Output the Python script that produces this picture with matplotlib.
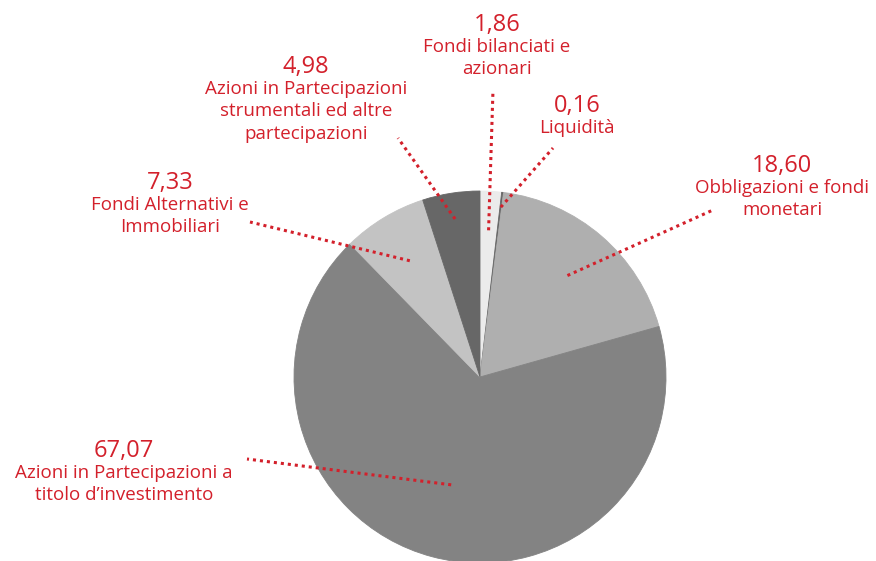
import numpy as np
import matplotlib
matplotlib.use("Agg")
from matplotlib import pyplot as plt

# data, clockwise from 12 o'clock
values = [1.86, 0.16, 18.60, 67.07, 7.33, 4.98]
numbers = ["1,86", "0,16", "18,60", "67,07", "7,33", "4,98"]
labels = ["Fondi bilanciati e\nazionari",
          "Liquidità",
          "Obbligazioni e fondi\nmonetari",
          "Azioni in Partecipazioni a\ntitolo d’investimento",
          "Fondi Alternativi e\nImmobiliari",
          "Azioni in Partecipazioni\nstrumentali ed altre\npartecipazioni"]
colors = ["#ebebeb", "#666666", "#afafaf", "#838383", "#c3c3c3", "#676767"]

# layout (pie radius = 1, centre at 0,0; pixel scale 186 px per unit)
PX = 186.0
CX, CY = 480, 377
def to_data(px, py):
    return (px - CX) / PX, (CY - py) / PX

inner_r = [0.79, 0.92, 0.72, 0.60, 0.73, 0.86]
line_end = [(493, 90), (553, 148), (713, 210), (247, 459), (250, 222), (398, 138)]
num_pos = [(497, 25), (577, 106), (782, 166), (124, 451), (170, 183), (306, 67)]

RED = "#d3202b"
plt.rcParams['font.family'] = ['Open Sans', 'DejaVu Sans']

fig = plt.figure(figsize=(8.76, 5.61), dpi=100)
ax = fig.add_axes([0, 0, 1, 1])

wedges, _ = ax.pie(values, colors=colors, startangle=90, counterclock=False,
                   radius=1, center=(0, 0), frame=True)
for w, c in zip(wedges, colors):
    w.set_edgecolor(c)
    w.set_linewidth(0.6)
ax.set_xlim(-CX / PX, (876 - CX) / PX)
ax.set_ylim((CY - 561) / PX, CY / PX)
ax.set_aspect('equal')
ax.axis('off')

for w, r, end, npos, num, lab in zip(wedges, inner_r, line_end, num_pos, numbers, labels):
    mid = np.deg2rad((w.theta1 + w.theta2) / 2)
    x0, y0 = r * np.cos(mid), r * np.sin(mid)
    x1, y1 = to_data(*end)
    ax.plot([x0, x1], [y0, y1], color=RED, linestyle=(0, (1, 1.3)), linewidth=2.2,
            dash_capstyle='butt')
    nx, ny = to_data(*npos)
    ax.text(nx, ny, num, color=RED, fontsize=17, ha='center', va='center')
    ax.text(nx, ny - 13 / PX, lab, color=RED, fontsize=13.5, ha='center', va='top',
            linespacing=1.32)

fig.savefig("out.png", dpi=100)
